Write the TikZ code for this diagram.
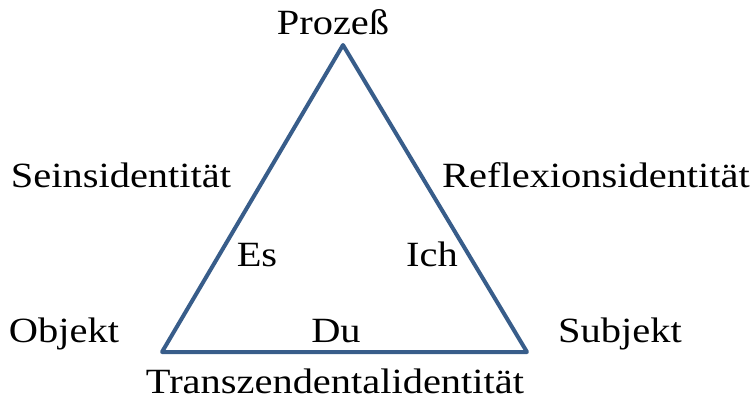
\documentclass[tikz,border=0pt]{standalone}
\usepackage{fontspec}
\setmainfont[FakeStretch=1.14]{Liberation Serif}
\usepackage{tikz}
\usetikzlibrary{positioning}

\definecolor{triblue}{RGB}{56,93,138}

\begin{document}
\begin{tikzpicture}[
    x=0.75pt, y=-0.75pt,
    every node/.style={font=\fontsize{26.6pt}{30pt}\selectfont},
    lbl/.style={anchor=base, inner sep=0pt},
    side/.style={draw=triblue, line width=3pt, line join=round}
]
\useasboundingbox (0,0) rectangle (752,400);

\coordinate (top)   at (343,45);
\coordinate (left)  at (162,352);
\coordinate (right) at (527,352);

\draw[side] (top) -- (left) -- (right) -- cycle;

\node[lbl] (proc)   at (333,34)  {Prozeß};
\node[lbl] (sein)   at (121,187) {Seinsidentität};
\node[lbl] (refl)   at (596,187) {Reflexionsidentität};
\node[lbl] (es)     at (257,266) {Es};
\node[lbl] (ich)    at (432,266) {Ich};
\node[lbl] (obj)    at (64,342)  {Objekt};
\node[lbl] (du)     at (336,342) {Du};
\node[lbl] (subj)   at (620,342) {Subjekt};
\node[lbl] (trans)  at (335,393) {Transzendentalidentität};
\end{tikzpicture}
\end{document}
